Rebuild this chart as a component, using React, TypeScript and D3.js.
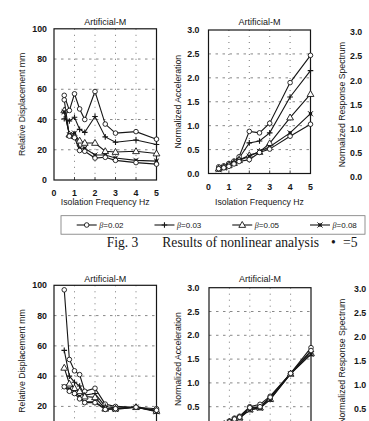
import { useEffect, useRef } from 'react';
import * as d3 from 'd3';

// isolation frequencies (Hz) shared by every curve
const freq = [0.5, 0.75, 1.0, 1.25, 1.5, 2.0, 2.5, 3.0, 4.0, 5.0];
const betaLabels = ['0.02', '0.03', '0.05', '0.08'];
const markerKinds = ['circle', 'plus', 'triangle', 'square', 'circle'];

// relative displacement (mm), upper row
const dispA02 = [56, 46, 57, 47, 40, 58.5, 37, 31, 32, 27];
const dispA03 = [40.5, 39, 41.5, 33.5, 31.5, 42, 28.5, 25, 26.5, 23.5];
const dispA05 = [46, 30, 29, 26, 24.5, 24.5, 19, 18.5, 19, 17.5];
const dispA08 = [45, 30, 31, 21, 21, 16.5, 16.5, 14.5, 13, 12.5];
const dispA5th = [53, 29, 28, 19.5, 19, 14.5, 15, 13, 11.5, 10.5];

// normalized acceleration, upper row
const accA02 = [0.14, 0.16, 0.21, 0.26, 0.35, 0.88, 0.85, 1.05, 1.9, 2.47];
const accA03 = [0.1, 0.14, 0.2, 0.25, 0.32, 0.64, 0.68, 0.85, 1.6, 2.15];
const accA05 = [0.1, 0.13, 0.18, 0.22, 0.28, 0.38, 0.45, 0.63, 1.17, 1.66];
const accA08 = [0.08, 0.12, 0.17, 0.22, 0.27, 0.36, 0.46, 0.56, 0.85, 1.25];
const accA5th = [0.1, 0.12, 0.15, 0.2, 0.25, 0.29, 0.44, 0.51, 0.78, 1.03];

// relative displacement (mm), lower row
const dispB02 = [97, 51, 43.5, 41, 30, 32, 21.5, 20, 19.5, 18.5];
const dispB03 = [57, 40, 36, 33.5, 27.5, 28.5, 20, 19, 19.5, 17];
const dispB05 = [45.5, 35, 32, 30, 26.5, 26, 18.5, 18.5, 19.5, 17];
const dispB08 = [33, 31.5, 29.5, 26.5, 23, 23, 18.5, 18, 19.5, 16.5];
const dispB5th = [33, 30, 28.5, 25, 22.5, 22.5, 18, 18.5, 19.5, 17.5];

// normalized acceleration, lower row
const accB02 = [0.1, 0.15, 0.2, 0.26, 0.3, 0.5, 0.55, 0.72, 1.2, 1.74];
const accB03 = [0.1, 0.14, 0.18, 0.24, 0.28, 0.46, 0.5, 0.68, 1.2, 1.66];
const accB05 = [0.09, 0.13, 0.18, 0.23, 0.27, 0.44, 0.48, 0.66, 1.19, 1.62];
const accB08 = [0.09, 0.13, 0.17, 0.22, 0.26, 0.43, 0.47, 0.65, 1.19, 1.6];
const accB5th = [0.1, 0.14, 0.18, 0.24, 0.28, 0.48, 0.5, 0.7, 1.2, 1.68];

const dispTicks = [0, 20, 40, 60, 80, 100];
const accTicks = [0, 0.5, 1.0, 1.5, 2.0, 2.5, 3.0];
const freqTicks = [0, 1, 2, 3, 4, 5];

const W = 369;
const H = 421;
const ink = '#161616';
const sans = "'Liberation Sans', Arial, sans-serif";
const serif = "'Liberation Serif', 'Times New Roman', serif";

interface RightAxis {
  x: number;
  top: number;
  bottom: number;
  labelX: number;
}

interface Panel {
  left: number;
  right: number;
  top: number;
  bottom: number;
  yMax: number;
  yTicks: number[];
  fmt: (v: number) => string;
  yLabel: string;
  yLabelX: number;
  yTickX: number;
  xTickY: number;
  xLabelY: number;
  titleY: number;
  series: number[][];
  rightAxis?: RightAxis;
}

type G = d3.Selection<SVGGElement, unknown, null, undefined>;

// labels that would fall below the page are skipped
const onPage = (v: number) => v < H - 5;

function drawMarker(g: G, kind: string, x: number, y: number) {
  if (kind === 'circle') {
    g.append('circle').attr('cx', x).attr('cy', y).attr('r', 2.3)
      .attr('fill', '#fff').attr('stroke', ink).attr('stroke-width', 0.9);
  } else if (kind === 'plus') {
    g.append('path')
      .attr('d', `M${x - 2.8},${y}H${x + 2.8}M${x},${y - 2.8}V${y + 2.8}`)
      .attr('stroke', ink).attr('stroke-width', 1.1);
  } else if (kind === 'triangle') {
    g.append('path')
      .attr('d', d3.symbol(d3.symbolTriangle, 20)())
      .attr('transform', `translate(${x},${y + 0.4})`)
      .attr('fill', '#fff').attr('stroke', ink).attr('stroke-width', 0.9);
  } else {
    g.append('rect').attr('x', x - 1.6).attr('y', y - 1.6).attr('width', 3.2).attr('height', 3.2)
      .attr('fill', ink);
    g.append('path')
      .attr('d', `M${x - 2.6},${y - 2.6}L${x + 2.6},${y + 2.6}M${x - 2.6},${y + 2.6}L${x + 2.6},${y - 2.6}`)
      .attr('stroke', ink).attr('stroke-width', 0.9);
  }
}

function drawPanel(root: G, p: Panel) {
  const x = d3.scaleLinear().domain([0, 5]).range([p.left, p.right]);
  const y = d3.scaleLinear().domain([0, p.yMax]).range([p.bottom, p.top]);
  const g = root.append('g');

  // dotted grid
  g.selectAll('line.hgrid')
    .data(p.yTicks.slice(1, -1))
    .join('line')
    .attr('x1', p.left).attr('x2', p.right)
    .attr('y1', d => y(d)).attr('y2', d => y(d))
    .attr('stroke', '#555').attr('stroke-width', 0.7)
    .attr('stroke-dasharray', '2.5,4.5');
  g.selectAll('line.vgrid')
    .data(freqTicks.slice(1, -1))
    .join('line')
    .attr('x1', d => x(d)).attr('x2', d => x(d))
    .attr('y1', p.top).attr('y2', p.bottom)
    .attr('stroke', '#555').attr('stroke-width', 0.8)
    .attr('stroke-dasharray', '1,5');

  // inward ticks
  freqTicks.slice(1, -1).forEach(t => {
    g.append('line').attr('x1', x(t)).attr('x2', x(t))
      .attr('y1', p.bottom).attr('y2', p.bottom - 3)
      .attr('stroke', ink).attr('stroke-width', 0.8);
  });

  g.append('rect')
    .attr('x', p.left).attr('y', p.top)
    .attr('width', p.right - p.left).attr('height', p.bottom - p.top)
    .attr('fill', 'none').attr('stroke', ink).attr('stroke-width', 1.2);

  // curves
  const line = d3.line<number>().x((_, i) => x(freq[i])).y(d => y(d));
  p.series.forEach(s => {
    g.append('path').datum(s).attr('d', line)
      .attr('fill', 'none').attr('stroke', ink).attr('stroke-width', 1.1);
  });
  p.series.forEach((s, si) => {
    s.forEach((v, i) => drawMarker(g, markerKinds[si], x(freq[i]), y(v)));
  });

  // y tick labels
  g.selectAll('text.ytick')
    .data(p.yTicks.filter(d => onPage(y(d))))
    .join('text')
    .attr('x', p.yTickX).attr('y', d => y(d))
    .attr('text-anchor', 'end').attr('dominant-baseline', 'central')
    .attr('font-family', sans).attr('font-size', 8.8).attr('font-weight', 'bold')
    .attr('fill', ink)
    .text(d => p.fmt(d));

  // x tick labels
  if (onPage(p.xTickY)) {
    g.selectAll('text.xtick')
      .data(freqTicks)
      .join('text')
      .attr('x', d => x(d)).attr('y', p.xTickY)
      .attr('text-anchor', 'middle').attr('dominant-baseline', 'central')
      .attr('font-family', sans).attr('font-size', 8.8).attr('font-weight', 'bold')
      .attr('fill', ink)
      .text(d => String(d));
  }

  const cx = (p.left + p.right) / 2;
  const cy = (p.top + p.bottom) / 2;

  g.append('text')
    .attr('x', cx).attr('y', p.titleY)
    .attr('text-anchor', 'middle').attr('dominant-baseline', 'central')
    .attr('font-family', sans).attr('font-size', 9).attr('fill', ink)
    .text('Artificial-M');

  if (onPage(p.xLabelY)) {
    g.append('text')
      .attr('x', cx).attr('y', p.xLabelY)
      .attr('text-anchor', 'middle').attr('dominant-baseline', 'central')
      .attr('font-family', sans).attr('font-size', 8.7).attr('fill', ink)
      .text('Isolation Frequency Hz');
  }

  g.append('text')
    .attr('transform', `translate(${p.yLabelX},${cy}) rotate(-90)`)
    .attr('text-anchor', 'middle').attr('dominant-baseline', 'central')
    .attr('font-family', sans).attr('font-size', 8.7).attr('fill', ink)
    .text(p.yLabel);

  if (p.rightAxis) {
    const ra = p.rightAxis;
    const yr = d3.scaleLinear().domain([0, p.yMax]).range([ra.bottom, ra.top]);
    g.selectAll('text.rtick')
      .data(p.yTicks.filter(d => onPage(yr(d))))
      .join('text')
      .attr('x', ra.x).attr('y', d => yr(d))
      .attr('text-anchor', 'start').attr('dominant-baseline', 'central')
      .attr('font-family', sans).attr('font-size', 8.8).attr('font-weight', 'bold')
      .attr('fill', ink)
      .text(d => p.fmt(d));
    g.append('text')
      .attr('transform', `translate(${ra.labelX},${(ra.top + ra.bottom) / 2}) rotate(-90)`)
      .attr('text-anchor', 'middle').attr('dominant-baseline', 'central')
      .attr('font-family', sans).attr('font-size', 8.7).attr('fill', ink)
      .text('Normalized Response Spectrum');
  }
}

const fmtInt = d3.format('d');
const fmtOne = d3.format('.1f');

const panels: Panel[] = [
  {
    left: 54, right: 156.5, top: 28.8, bottom: 180, yMax: 100, yTicks: dispTicks, fmt: fmtInt,
    yLabel: 'Relative Displacement mm', yLabelX: 21.7, yTickX: 47, xTickY: 192.5, xLabelY: 202, titleY: 22,
    series: [dispA02, dispA03, dispA05, dispA08, dispA5th],
  },
  {
    left: 208.5, right: 310.5, top: 30, bottom: 173.5, yMax: 3, yTicks: accTicks, fmt: fmtOne,
    yLabel: 'Normalized Acceleration', yLabelX: 178.3, yTickX: 199.5, xTickY: 186.5, xLabelY: 202, titleY: 22,
    series: [accA02, accA03, accA05, accA08, accA5th],
    rightAxis: { x: 350, top: 32.3, bottom: 177, labelX: 342 },
  },
  {
    left: 54, right: 156.5, top: 285.3, bottom: 436.7, yMax: 100, yTicks: dispTicks, fmt: fmtInt,
    yLabel: 'Relative Displacement mm', yLabelX: 21.7, yTickX: 47, xTickY: 450, xLabelY: 458, titleY: 279,
    series: [dispB02, dispB03, dispB05, dispB08, dispB5th],
  },
  {
    left: 209, right: 311, top: 287.7, bottom: 430.5, yMax: 3, yTicks: accTicks, fmt: fmtOne,
    yLabel: 'Normalized Acceleration', yLabelX: 178.3, yTickX: 199.5, xTickY: 444, xLabelY: 458, titleY: 279,
    series: [accB02, accB03, accB05, accB08, accB5th],
    rightAxis: { x: 354, top: 289, bottom: 433.5, labelX: 342 },
  },
];

export default function App() {
  const svgRef = useRef<SVGSVGElement>(null);

  useEffect(() => {
    if (!svgRef.current) return;
    const svg = d3.select(svgRef.current);
    svg.selectAll('*').remove();

    svg.append('rect').attr('width', W).attr('height', H).attr('fill', '#fff');
    const root = svg.append('g') as unknown as G;

    panels.forEach(p => drawPanel(root, p));

    // legend box under the upper row
    const lg = root.append('g');
    lg.append('rect')
      .attr('x', 61).attr('y', 215.7).attr('width', 304).attr('height', 18.5)
      .attr('fill', 'none').attr('stroke', '#777').attr('stroke-width', 0.8);
    const legendX = d3.scalePoint<string>().domain(betaLabels).range([76.7, 310]);
    betaLabels.forEach((b, i) => {
      const x0 = legendX(b)!;
      const ly = 225;
      lg.append('line').attr('x1', x0).attr('x2', x0 + 20).attr('y1', ly).attr('y2', ly)
        .attr('stroke', ink).attr('stroke-width', 1.1);
      drawMarker(lg as G, markerKinds[i], x0 + 10, ly);
      const t = lg.append('text')
        .attr('x', x0 + 22.6).attr('y', ly)
        .attr('dominant-baseline', 'central')
        .attr('font-family', sans).attr('font-size', 8).attr('fill', ink);
      t.append('tspan').attr('font-style', 'italic').attr('font-family', serif).text('β');
      t.append('tspan').text(`=${b}`);
    });

    // caption
    const cap = root.append('text')
      .attr('y', 247)
      .attr('font-family', serif).attr('font-size', 13.6).attr('fill', ink);
    cap.append('tspan').attr('x', 106.7).text('Fig. 3');
    cap.append('tspan').attr('x', 162.3).text('Results of nonlinear analysis');
    cap.append('tspan').attr('x', 331).text('•');
    cap.append('tspan').attr('x', 343).text('=5');
  }, []);

  return (
    <svg
      ref={svgRef}
      width={W}
      height={H}
      style={{ position: 'absolute', left: 0, top: 0, display: 'block' }}
    />
  );
}
